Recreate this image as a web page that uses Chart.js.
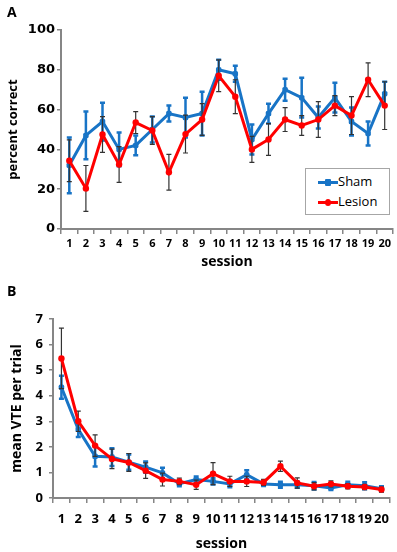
<!DOCTYPE html>
<html>
<head>
<meta charset="utf-8">
<script src="https://cdn.jsdelivr.net/npm/chart.js@4"></script>
<style>
    body { margin: 0; background: #fff; width: 397px; height: 552px; position: relative; overflow: hidden; }
    .panel { position: absolute; left: 0; }
    .letra { position: absolute; font: bold 14px "Open Sans"; color: #000; }
    .legenda { position: absolute; left: 305px; top: 168px; width: 83px; height: 45px; border: 1px solid #a6a6a6; background: #fff; font: 13px "Open Sans"; }
    .item { position: absolute; left: 12px; height: 18px; line-height: 18px; }
    .item .linha { position: absolute; left: 0; top: 8px; width: 20px; height: 3px; }
    .item .ponto { position: absolute; left: 7px; top: 6px; width: 6px; height: 7px; border-radius: 50%; }
    .item span.txt { position: absolute; left: 20px; top: -1px; }
</style>
</head>
<body>
<div class="panel" style="top:0"><canvas id="grafico-a" width="397" height="270"></canvas></div>
<div class="panel" style="top:270px"><canvas id="grafico-b" width="397" height="282"></canvas></div>
<div class="letra" style="left:7px; top:2px">A</div>
<div class="letra" style="left:7px; top:281px">B</div>
<div class="legenda">
    <div class="item" style="top:4px">
        <div class="linha" style="background:#1874c6"></div>
        <div class="ponto" style="background:#1874c6; border-radius:1px"></div>
        <span class="txt">Sham</span>
    </div>
    <div class="item" style="top:24px">
        <div class="linha" style="background:#ff0000"></div>
        <div class="ponto" style="background:#ff0000"></div>
        <span class="txt">Lesion</span>
    </div>
</div>
<script>
// sessoes
const sessoes = ["1", "2", "3", "4", "5", "6", "7", "8", "9", "10",
    "11", "12", "13", "14", "15", "16", "17", "18", "19", "20"];

// painel A - percent correct
const shamCorreto = [32, 47, 54, 40, 42, 50, 58, 56, 58, 80, 78, 45, 58, 70, 66, 56, 66, 54, 48, 68];
const shamCorretoErro = [14, 12, 9.5, 8.5, 5, 6.5, 4, 10, 11, 5, 4, 7.5, 5, 5.5, 10, 5.5, 7.5, 7, 6, 6];
const lesaoCorreto = [34.3, 20.4, 47.5, 32.4, 53.5, 49.5, 28.5, 47.7, 55, 77, 66.5, 40, 45, 55, 52, 55, 62, 57, 75, 62];
const lesaoCorretoErro = [10.5, 11.5, 9, 9, 5.5, 7, 9, 9.5, 8, 8, 8.5, 6.5, 8, 6, 5, 9, 5, 9.5, 8.5, 12];

// painel B - mean VTE per trial
const shamVTE = [4.33, 2.69, 1.63, 1.6, 1.4, 1.21, 0.98, 0.56, 0.72, 0.65, 0.55, 0.91, 0.55, 0.52, 0.52, 0.48, 0.39, 0.52, 0.48, 0.36];
const shamVTEErro = [0.45, 0.3, 0.4, 0.35, 0.3, 0.22, 0.2, 0.1, 0.12, 0.12, 0.13, 0.18, 0.08, 0.12, 0.12, 0.15, 0.08, 0.12, 0.14, 0.1];
const lesaoVTE = [5.46, 3.0, 2.05, 1.53, 1.39, 1.07, 0.72, 0.65, 0.52, 0.95, 0.65, 0.65, 0.61, 1.24, 0.59, 0.46, 0.55, 0.46, 0.43, 0.33];
const lesaoVTEErro = [1.18, 0.4, 0.42, 0.38, 0.35, 0.3, 0.25, 0.13, 0.18, 0.43, 0.2, 0.2, 0.12, 0.2, 0.2, 0.14, 0.12, 0.1, 0.1, 0.1];

const corSham = "#1874c6";
const corLesao = "#ff0000";
const corEixo = "#868686";

// plugin para desenhar barras de erro antes de cada linha
const barrasErro = {
    id: "barrasErro",
    beforeDatasetDraw(chart, args) {
        const ds = chart.data.datasets[args.index];
        if (!ds.erros) return;
        const meta = args.meta;
        const y = chart.scales.y;
        const ctx = chart.ctx;
        ctx.save();
        ctx.strokeStyle = ds.corErro;
        ctx.lineWidth = ds.larguraErro;
        meta.data.forEach((ponto, i) => {
            const v = ds.data[i];
            const topo = y.getPixelForValue(v + ds.erros[i]);
            const base = y.getPixelForValue(v - ds.erros[i]);
            ctx.beginPath();
            ctx.moveTo(ponto.x, topo);
            ctx.lineTo(ponto.x, base);
            ctx.moveTo(ponto.x - 2.5, topo);
            ctx.lineTo(ponto.x + 2.5, topo);
            ctx.moveTo(ponto.x - 2.5, base);
            ctx.lineTo(ponto.x + 2.5, base);
            ctx.stroke();
        });
        ctx.restore();
    }
};

function criarGrafico(id, dadosSham, erroSham, dadosLesao, erroLesao, cfg) {
    return new Chart(document.getElementById(id), {
        type: "line",
        data: {
            labels: sessoes,
            datasets: [
                {
                    label: "Lesion",
                    data: dadosLesao,
                    erros: erroLesao,
                    corErro: "#333333",
                    larguraErro: 1.2,
                    borderColor: corLesao,
                    backgroundColor: corLesao,
                    borderWidth: 3,
                    pointRadius: 3.2,
                    pointBorderWidth: 0,
                    tension: 0
                },
                {
                    label: "Sham",
                    data: dadosSham,
                    erros: erroSham,
                    corErro: corSham,
                    larguraErro: 2.5,
                    borderColor: corSham,
                    backgroundColor: corSham,
                    borderWidth: 3,
                    pointStyle: "rectRounded",
                    pointRadius: 3.2,
                    pointBorderWidth: 0,
                    tension: 0
                }
            ]
        },
        options: {
            responsive: false,
            animation: false,
            devicePixelRatio: 1,
            layout: { padding: { left: 0, right: 2, top: cfg.topo, bottom: 0 } },
            plugins: {
                legend: { display: false },
                tooltip: { enabled: false }
            },
            scales: {
                x: {
                    offset: true,
                    afterFit: s => { s.height = cfg.alturaX },
                    grid: { offset: true, drawOnChartArea: false, color: corEixo, lineWidth: 1.5, tickLength: 5 },
                    border: { color: corEixo, width: 2 },
                    ticks: { color: "#000", font: { family: "Open Sans", weight: "bold", size: cfg.fonteX }, padding: cfg.padX, maxRotation: 0, autoSkip: false },
                    title: { display: true, text: "session", color: "#000", font: { family: "Open Sans", weight: "bold", size: 14 }, padding: { top: cfg.padTituloX, bottom: 0 } }
                },
                y: {
                    min: 0,
                    max: cfg.max,
                    afterFit: s => { s.width = cfg.larguraY },
                    grid: { drawOnChartArea: false, color: corEixo, lineWidth: 1.5, tickLength: 4 },
                    border: { color: corEixo, width: 2 },
                    ticks: { stepSize: cfg.passo, color: "#000", font: { family: cfg.familiaY, weight: "bold", size: cfg.fonteY }, padding: cfg.padY },
                    title: { display: true, text: cfg.tituloY, color: "#000", font: { family: "Open Sans", weight: "bold", size: cfg.fonteTituloY }, padding: { top: cfg.padTituloY, bottom: 0 } }
                }
            }
        },
        plugins: [barrasErro]
    });
}

let graficoA = criarGrafico("grafico-a", shamCorreto, shamCorretoErro, lesaoCorreto, lesaoCorretoErro, {
    topo: 30, alturaX: 41, larguraY: 61, max: 100, passo: 20,
    fonteX: 11, padX: 3, padTituloX: 2,
    familiaY: "DejaVu Sans", fonteY: 13, padY: 2,
    tituloY: "percent correct", fonteTituloY: 13, padTituloY: 5
});

let graficoB = criarGrafico("grafico-b", shamVTE, shamVTEErro, lesaoVTE, lesaoVTEErro, {
    topo: 49, alturaX: 54, larguraY: 53, max: 7, passo: 1,
    fonteX: 13, padX: 8, padTituloX: 2,
    familiaY: "Open Sans", fonteY: 13, padY: 6,
    tituloY: "mean VTE per trial", fonteTituloY: 14, padTituloY: 9
});
</script>
</body>
</html>
